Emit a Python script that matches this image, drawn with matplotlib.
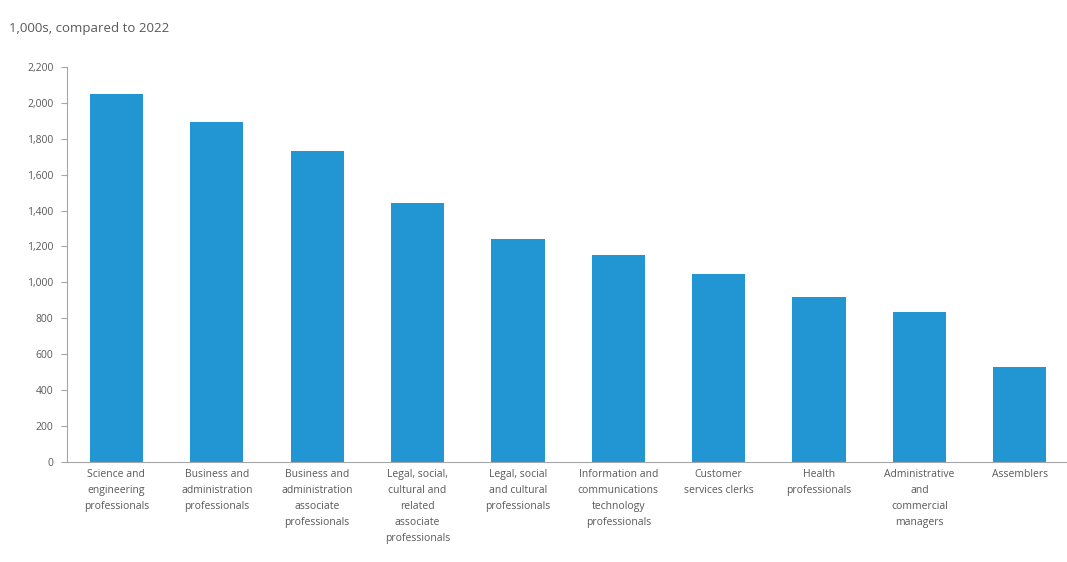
import matplotlib
matplotlib.use("Agg")
import matplotlib.pyplot as plt
import matplotlib.ticker as ticker

plt.rcParams['font.family'] = ['Open Sans', 'DejaVu Sans']

# occupations (labels wrapped like the reference)
categories = [
    'Science and\nengineering\nprofessionals',
    'Business and\nadministration\nprofessionals',
    'Business and\nadministration\nassociate\nprofessionals',
    'Legal, social,\ncultural and\nrelated\nassociate\nprofessionals',
    'Legal, social\nand cultural\nprofessionals',
    'Information and\ncommunications\ntechnology\nprofessionals',
    'Customer\nservices clerks',
    'Health\nprofessionals',
    'Administrative\nand\ncommercial\nmanagers',
    'Assemblers',
]
values = [2050, 1895, 1732, 1444, 1240, 1153, 1047, 917, 835, 531]
y_ticks = list(range(0, 2201, 200))

bar_color = '#2196d3'
text_color = '#595959'
axis_color = '#a6a6a6'

fig = plt.figure(figsize=(10.67, 5.62), dpi=100)
ax = fig.add_axes([0.063, 0.178, 0.937, 0.703])

x = list(range(len(categories)))
ax.bar(x, values, width=0.53, color=bar_color)

ax.set_xlim(-0.49, 9.47)
ax.set_ylim(0, 2200)
ax.set_yticks(y_ticks)
ax.yaxis.set_major_formatter(ticker.FuncFormatter(lambda v, p: f'{int(v):,}'))

ax.set_xticks(x)
ax.set_xticklabels(categories, fontsize=7.5, color=text_color, linespacing=1.62)
ax.tick_params(axis='x', length=0, pad=5)
ax.tick_params(axis='y', length=4, width=0.8, color=axis_color,
               labelsize=7.5, labelcolor=text_color, pad=6)

for side in ['top', 'right']:
    ax.spines[side].set_visible(False)
for side in ['left', 'bottom']:
    ax.spines[side].set_color(axis_color)
    ax.spines[side].set_linewidth(0.8)

fig.text(0.008, 0.949, '1,000s, compared to 2022', fontsize=9.5,
         color=text_color, ha='left', va='center')

plt.savefig('out.png', dpi=100)
